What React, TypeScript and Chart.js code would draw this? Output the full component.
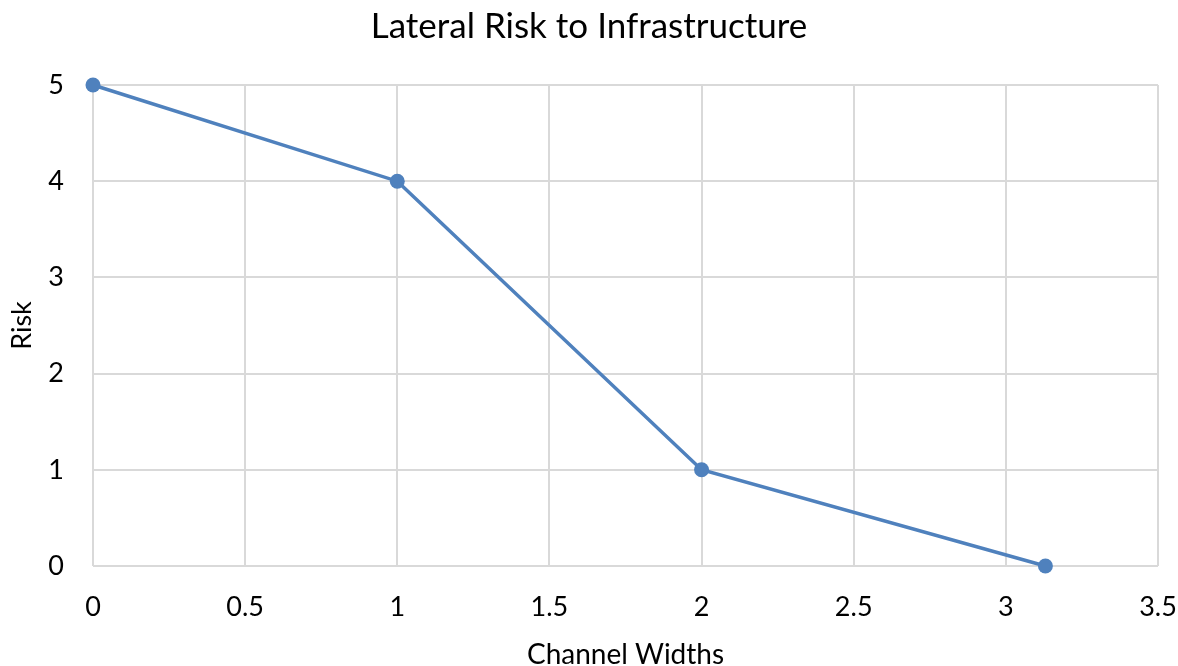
import React, { useEffect, useRef } from "react";
import { Chart, registerables } from "chart.js";

Chart.register(...registerables);

const channelWidths = [0, 1, 2, 3.13];
const riskValues = [5, 4, 1, 0];
const xTicks = [0, 0.5, 1, 1.5, 2, 2.5, 3, 3.5];
const yTicks = [0, 1, 2, 3, 4, 5];

const FONT = "Lato, 'Open Sans', sans-serif";
const GRID = "#d9d9d9";
const LINE = "#4f81bd";

export default function App() {
  const ref = useRef<HTMLCanvasElement | null>(null);

  useEffect(() => {
    document.body.style.margin = "0";
    const ctx = ref.current!;
    const chart = new Chart(ctx, {
      type: "scatter",
      data: {
        datasets: [
          {
            label: "Risk",
            data: channelWidths.map((x, i) => ({ x, y: riskValues[i] })),
            showLine: true,
            borderColor: LINE,
            backgroundColor: LINE,
            borderWidth: 3.5,
            pointRadius: 7.5,
            pointHoverRadius: 7.5,
            pointBorderWidth: 0,
            clip: false,
          },
        ],
      },
      options: {
        animation: false,
        responsive: false,
        layout: { padding: { left: 0, right: 0, top: 0, bottom: 0 } },
        plugins: {
          legend: { display: false },
          tooltip: { enabled: false },
          title: {
            display: true,
            text: "Lateral Risk to Infrastructure",
            color: "#000",
            font: { family: FONT, size: 35, weight: "normal", lineHeight: 1.2 },
            padding: { top: 6, bottom: 37 },
          },
        },
        scales: {
          x: {
            type: "linear",
            min: 0,
            max: 3.5,
            afterBuildTicks: (s: any) => {
              s.ticks = xTicks.map((v) => ({ value: v }));
            },
            afterFit: (s: any) => {
              s.height = 100;
              s.paddingRight = 20;
              s.paddingLeft = 0;
            },
            grid: { color: GRID, lineWidth: 2, drawTicks: false },
            border: { display: false },
            ticks: {
              color: "#000",
              padding: 25,
              font: { family: FONT, size: 27 },
              callback: (v: any) => String(v),
            },
            title: {
              display: true,
              text: "Channel Widths",
              color: "#000",
              font: { family: FONT, size: 28, lineHeight: 1 },
              padding: { top: 0, bottom: -3 },
            },
          },
          y: {
            type: "linear",
            min: 0,
            max: 5,
            afterBuildTicks: (s: any) => {
              s.ticks = yTicks.map((v) => ({ value: v }));
            },
            afterFit: (s: any) => {
              s.width = 93;
            },
            grid: { color: GRID, lineWidth: 2, drawTicks: false },
            border: { display: false },
            ticks: {
              color: "#000",
              padding: 29,
              font: { family: FONT, size: 27 },
              callback: (v: any) => String(v),
            },
            title: {
              display: true,
              text: "Risk",
              color: "#000",
              font: { family: FONT, size: 27, lineHeight: 1.2 },
              padding: { top: 6, bottom: 0 },
            },
          },
        },
      },
    });
    return () => chart.destroy();
  }, []);

  return (
    <div style={{ width: 1178, height: 666, background: "#fff" }}>
      <canvas ref={ref} width={1178} height={666} />
    </div>
  );
}
